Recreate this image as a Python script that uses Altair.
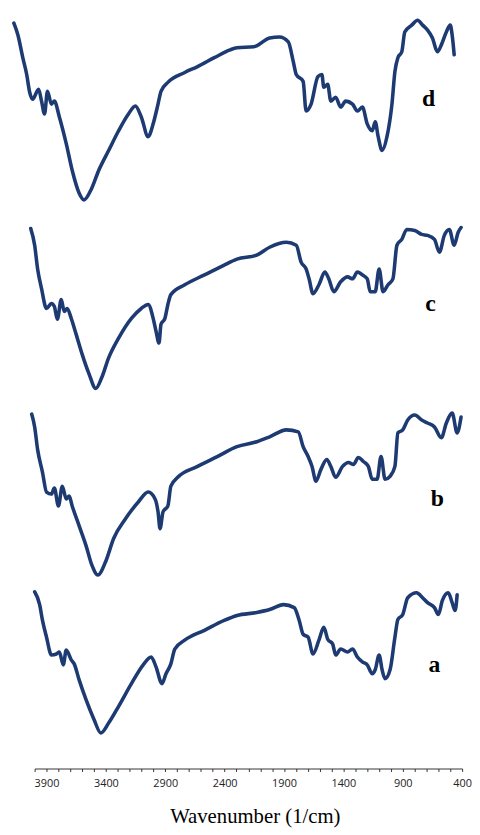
import altair as alt
import pandas as pd

# Stacked FTIR spectra, transmittance in arbitrary units
series_names = ["a", "b", "c", "d"]
offsets = [0, 180, 370, 560]

wn_a = [4000, 3958, 3934, 3900, 3859, 3817, 3792, 3759, 3734, 3692, 3667, 3626, 3568, 3501, 3443,
        3377, 3293, 3185, 3086, 3019, 2978, 2928, 2894, 2853, 2820, 2736, 2570, 2404, 2296, 2130,
        2021, 1905, 1814, 1772, 1739, 1697, 1656, 1606, 1565, 1532, 1490, 1465, 1423, 1365, 1323,
        1282, 1240, 1199, 1157, 1132, 1099, 1074, 1049, 1007, 966, 941, 900, 858, 783, 733, 691,
        633, 600, 567, 517, 484, 459, 442]
t_a = [179, 166, 150, 133, 115, 116, 118, 105, 120, 110, 106, 90, 70, 50, 36,
       46, 63, 86, 105, 113, 103, 86, 96, 106, 121, 130, 140, 150, 155, 158,
       161, 166, 163, 150, 136, 133, 116, 130, 143, 131, 126, 115, 121, 118, 121,
       113, 108, 105, 96, 100, 115, 100, 91, 100, 133, 151, 156, 173, 178, 173, 168,
       163, 156, 170, 178, 168, 160, 176]

wn_b = [4025, 4000, 3975, 3934, 3900, 3859, 3834, 3800, 3767, 3734, 3709, 3684, 3626, 3568, 3518,
        3468, 3401, 3335, 3235, 3127, 3044, 2986, 2961, 2944, 2919, 2878, 2853, 2795, 2628, 2462,
        2296, 2130, 2021, 1880, 1780, 1739, 1697, 1664, 1631, 1589, 1540, 1506, 1465, 1407, 1357,
        1315, 1274, 1232, 1190, 1157, 1116, 1083, 1049, 1007, 966, 941, 900, 858, 799, 741, 691,
        633, 575, 533, 484, 442, 409]
t_b = [179, 166, 143, 120, 100, 98, 104, 86, 106, 93, 96, 86, 66, 46, 26,
       16, 30, 53, 73, 90, 100, 93, 80, 63, 80, 86, 106, 115, 126, 136,
       146, 151, 156, 163, 161, 146, 136, 126, 111, 123, 133, 126, 115, 126, 130,
       128, 135, 131, 126, 113, 113, 136, 113, 116, 126, 160, 163, 173, 178, 173, 170,
       166, 155, 170, 180, 160, 176]

wn_c = [4033, 4000, 3975, 3942, 3900, 3859, 3834, 3809, 3776, 3751, 3726, 3692, 3651, 3601, 3543,
        3485, 3435, 3377, 3293, 3185, 3102, 3044, 3002, 2978, 2953, 2936, 2903, 2878, 2853, 2736,
        2570, 2404, 2296, 2130, 2021, 1880, 1797, 1756, 1714, 1689, 1656, 1606, 1556, 1523, 1481,
        1423, 1365, 1323, 1282, 1240, 1199, 1174, 1132, 1099, 1066, 1024, 983, 949, 908, 866, 799,
        741, 691, 633, 592, 550, 508, 467, 434, 409]
t_c = [177, 160, 136, 116, 96, 101, 98, 85, 105, 93, 96, 86, 70, 50, 30,
       15, 26, 46, 66, 86, 96, 100, 86, 73, 61, 80, 86, 100, 110, 120,
       130, 140, 146, 150, 158, 163, 160, 143, 136, 126, 111, 120, 133, 126, 113,
       123, 128, 126, 133, 130, 126, 113, 113, 136, 113, 120, 126, 160, 166, 176, 175,
       171, 170, 166, 153, 170, 176, 160, 173, 178]

wn_d = [4175, 4141, 4100, 4067, 4042, 4017, 3967, 3942, 3917, 3892, 3859, 3834, 3792, 3734, 3684,
        3626, 3584, 3526, 3460, 3377, 3293, 3210, 3152, 3102, 3044, 3002, 2961, 2936, 2878, 2736,
        2628, 2487, 2354, 2296, 2155, 2021, 1938, 1864, 1822, 1797, 1739, 1714, 1672, 1614, 1581,
        1565, 1532, 1506, 1465, 1423, 1381, 1323, 1282, 1240, 1199, 1157, 1132, 1107, 1074, 1033,
        991, 966, 941, 908, 883, 824, 775, 733, 691, 650, 608, 575, 533, 500, 484, 467]
t_d = [195, 183, 160, 143, 125, 118, 128, 116, 103, 126, 113, 116, 100, 73, 46,
       23, 16, 26, 46, 66, 86, 103, 111, 100, 80, 93, 113, 126, 135, 145,
       151, 160, 168, 170, 171, 180, 181, 176, 156, 143, 136, 106, 113, 141, 143,
       130, 133, 116, 120, 110, 116, 113, 106, 110, 93, 86, 95, 80, 66, 80,
       113, 146, 160, 166, 186, 193, 198, 193, 188, 180, 166, 173, 186, 193, 183, 163]

label_wn = [633, 608, 667, 683]
label_t = [105, 93, 100, 118]

tick_values = list(range(4000, 399, -100))

rows = []
for name, off, wn, t in zip(series_names, offsets, [wn_a, wn_b, wn_c, wn_d], [t_a, t_b, t_c, t_d]):
    for w, v in zip(wn, t):
        rows.append({"series": name, "wn": w, "y": v + off})
df = pd.DataFrame(rows)

lab_df = pd.DataFrame({
    "series": series_names,
    "wn": label_wn,
    "y": [t + o for t, o in zip(label_t, offsets)],
})

x_scale = alt.Scale(domain=[400, 4000], reverse=True, nice=False, zero=False)
y_scale = alt.Scale(domain=[0, 763], nice=False, zero=False)

x_axis = alt.Axis(
    title="Wavenumber (1/cm)",
    titleFont="Liberation Serif",
    titleFontSize=21,
    titleFontWeight="normal",
    titleColor="black",
    titleX=223,
    titleY=55,
    titleAlign="center",
    titleBaseline="alphabetic",
    values=tick_values,
    labelExpr="datum.value % 500 == 400 ? format(datum.value, 'd') : ''",
    labelFont="Open Sans",
    labelFontSize=11,
    labelColor="#222222",
    labelFlush=False,
    labelOverlap=False,
    labelPadding=6,
    tickSize=3,
    tickColor="#333333",
    domainColor="#333333",
    grid=False,
)

lines = alt.Chart(df).mark_line(
    color="#1d3b72", strokeWidth=3.6, strokeJoin="round", strokeCap="round",
    interpolate="monotone"
).encode(
    x=alt.X("wn:Q", scale=x_scale, axis=x_axis),
    y=alt.Y("y:Q", scale=y_scale, axis=None),
    detail="series:N",
)

labels = alt.Chart(lab_df).mark_text(
    font="Liberation Serif", fontSize=24, fontWeight="bold", color="black",
    align="center", baseline="middle"
).encode(
    x=alt.X("wn:Q", scale=x_scale, axis=x_axis),
    y=alt.Y("y:Q", scale=y_scale, axis=None),
    text="series:N",
)

chart = alt.layer(lines, labels).properties(
    width=433,
    height=763,
    padding={"left": 27, "top": 2, "right": 10, "bottom": 62},
    autosize=alt.AutoSizeParams(type="none"),
).configure_view(strokeWidth=0).configure_axisX(labelOverlap=False)

chart.save("out.html", embed_options={"renderer": "svg", "actions": False})
